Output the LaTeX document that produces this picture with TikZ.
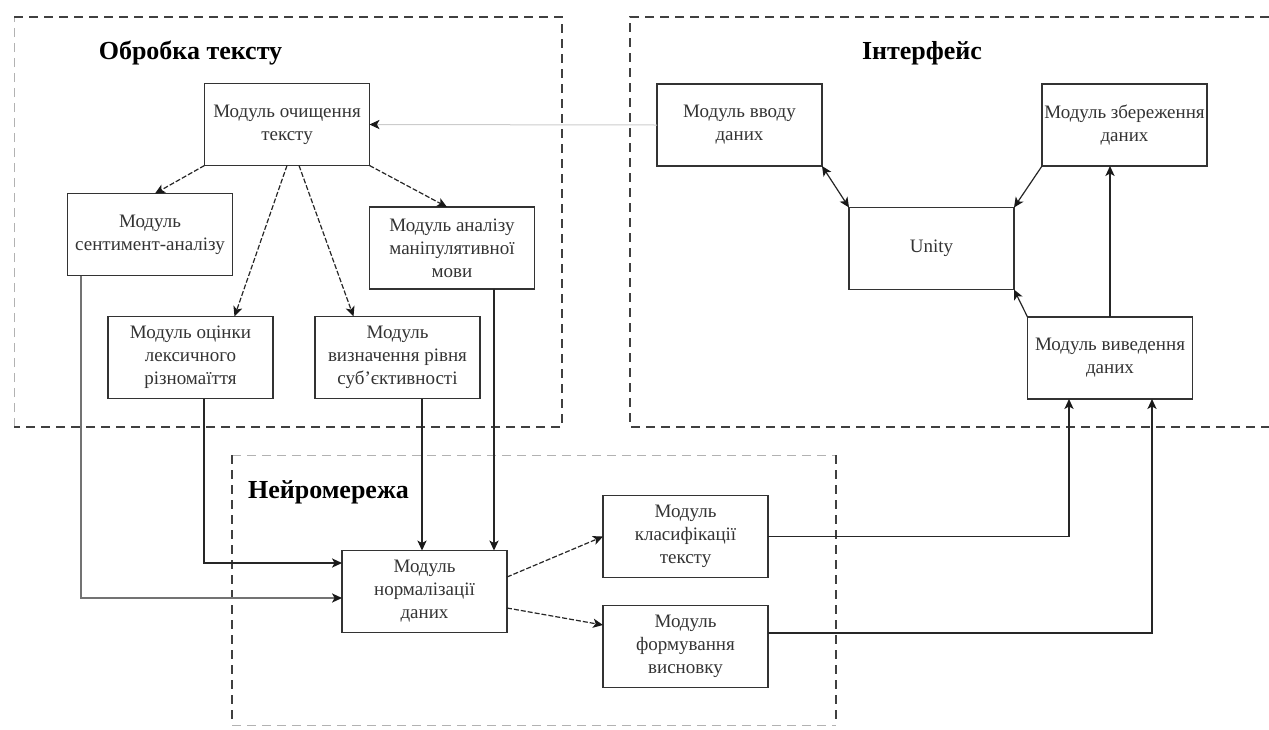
\documentclass[tikz,border=0pt]{standalone}
\usepackage{fontspec}
\setmainfont{Liberation Serif}
\usetikzlibrary{arrows.meta}

\begin{document}
\begin{tikzpicture}[x=0.5pt,y=-0.5pt,
    modul/.style={draw=black!80, line width=0.75pt, minimum width=82.5pt, minimum height=41pt,
        inner sep=1pt, outer sep=0pt, align=center, text=black!80, font=\fontsize{9.5}{11.5}\selectfont},
    titel/.style={font=\fontsize{13}{15}\selectfont\bfseries},
    spitze/.tip={Stealth[length=5pt,width=4.6pt,inset=1.3pt,color=black!90]},
    pfeil/.style={-spitze, line width=0.6pt, draw=black!85},
    strich/.style={dash pattern=on 2.5pt off 1pt},
    gruppe/.style={line width=0.75pt, draw=black!75, dash pattern=on 4.5pt off 3pt},
    gruppehell/.style={gruppe, line width=0.5pt, draw=black!30}]
    \useasboundingbox (0,0) rectangle (1269,729);

    % Gruppen
    \draw[gruppehell] (14,427) -- (14,17);
    \draw[gruppe] (14,17) -- (562,17) -- (562,427) -- (14,427);
    \draw[gruppe] (1269,17) -- (630,17) -- (630,427) -- (1269,427);
    \draw[gruppehell] (232,455) -- (836,455);
    \draw[gruppehell] (232,725) -- (836,725);
    \draw[gruppe] (232,455) -- (232,725);
    \draw[gruppe] (836,455) -- (836,725);

    % Titel
    \node[titel] (tobrobka) at (190.5,53) {Обробка тексту};
    \node[titel] (tinterf) at (922,53) {Інтерфейс};
    \node[titel, anchor=west] (tneiro) at (241,492) {Нейромережа};

    % Module
    \foreach \n/\x/\y/\t in {
        clean/287/124.5/{Модуль очищення\\тексту},
        sent/150/234.5/{Модуль\\сентимент-аналізу},
        manip/452/248/{Модуль аналізу\\маніпулятивної\\мови},
        lex/190.5/357.5/{Модуль оцінки\\лексичного\\різномаїття},
        subj/397.5/357.5/{Модуль\\визначення рівня\\суб'єктивності},
        input/739.5/125/{Модуль вводу\\даних},
        save/1124.5/125/{Модуль збереження\\даних},
        unity/931.5/248.5/{Unity},
        output/1110/358/{Модуль виведення\\даних},
        norm/424.5/591.5/{Модуль\\нормалізації\\даних},
        class/685.5/536.5/{Модуль\\класифікації\\тексту},
        concl/685.5/646.5/{Модуль\\формування\\висновку}} {
        \node[modul] (\n) at (\x,\y) {\t};
    }

    % Verbindungen: Obrobka
    \draw[pfeil, draw=black!20, line width=0.5pt] (input.west) -- (clean.east);
    \draw[pfeil, strich] (clean.south west) -- ([xshift=2.5pt]sent.north);
    \draw[pfeil, strich] (clean.south) -- ([xshift=22pt]lex.north);
    \draw[pfeil, strich] ([xshift=6pt]clean.south) -- ([xshift=-22pt]subj.north);
    \draw[pfeil, strich] (clean.south east) -- ([xshift=-2.5pt]manip.north);

    % Verbindungen zur Normalisierung
    \draw[pfeil, draw=black!55] ([xshift=-34.5pt]sent.south) |- ([yshift=-3.25pt]norm.west);
    \draw[pfeil] ([xshift=6.75pt]lex.south) |- ([yshift=14.25pt]norm.west);
    \draw[pfeil] ([xshift=12.25pt]subj.south) -- ([xshift=12.25pt]subj.south |- norm.north);
    \draw[pfeil] ([xshift=21pt]manip.south) -- ([xshift=21pt]manip.south |- norm.north);

    % Neiromerezha
    \draw[pfeil, strich] ([yshift=7.25pt]norm.east) -- (class.west);
    \draw[pfeil, strich] ([yshift=-8.25pt]norm.east) -- ([yshift=10.75pt]concl.west);
    \draw[pfeil] (class.east) -| ([xshift=-20.5pt]output.south);
    \draw[pfeil] ([yshift=6.75pt]concl.east) -| ([xshift=21pt]output.south);

    % Interfeis
    \draw[pfeil, spitze-spitze] (input.south east) -- (unity.north west);
    \draw[pfeil] (save.south west) -- (unity.north east);
    \draw[pfeil] (output.north west) -- (unity.south east);
    \draw[pfeil] (output.north) -- (output.north |- save.south);
\end{tikzpicture}
\end{document}
